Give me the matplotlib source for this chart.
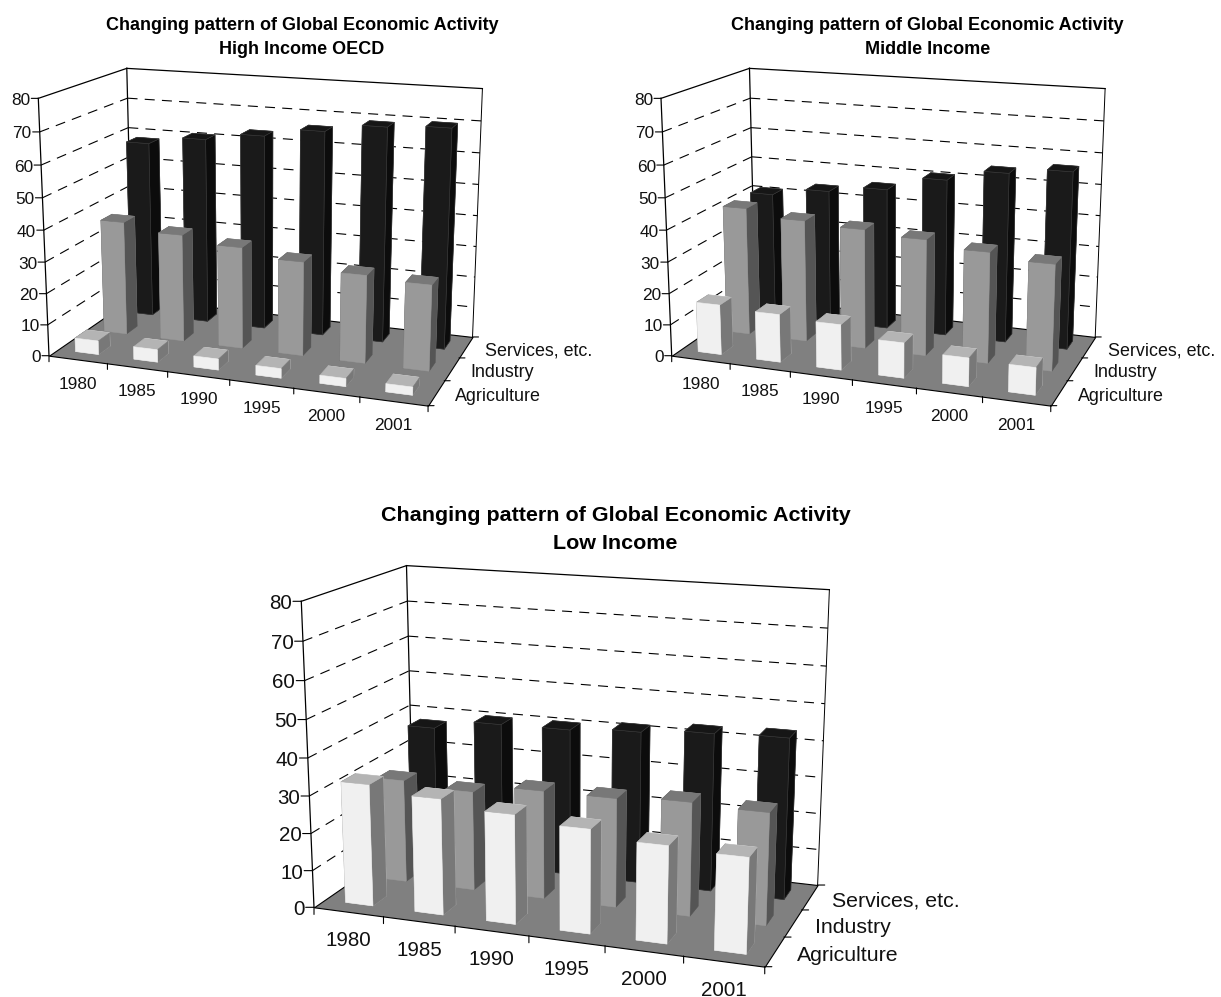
import numpy as np
import matplotlib
matplotlib.use("Agg")
import matplotlib.pyplot as plt
from mpl_toolkits.mplot3d import proj3d
from mpl_toolkits.mplot3d.art3d import Poly3DCollection

plt.rcParams['font.family'] = ['Liberation Sans', 'DejaVu Sans']

years = ['1980', '1985', '1990', '1995', '2000', '2001']
sectors = ['Agriculture', 'Industry', 'Services, etc.']
z_ticks = [0, 10, 20, 30, 40, 50, 60, 70, 80]

high_agri = [4.4, 4.0, 3.5, 3.0, 2.5, 2.5]
high_ind = [37, 34.7, 32.6, 30, 27.8, 26.9]
high_serv = [58.3, 61, 63.5, 66.3, 69, 70]

mid_agri = [16, 15.2, 14.3, 11, 8.8, 8.4]
mid_ind = [41.5, 39.3, 38.3, 37, 35, 33.3]
mid_serv = [41.3, 44, 46.2, 50.9, 54.6, 56.6]

low_agri = [32.7, 30.9, 28.9, 27.2, 25.2, 24.5]
low_ind = [28.2, 27, 29.3, 29.3, 30.3, 29.7]
low_serv = [37.8, 40.5, 40.7, 41.8, 43.1, 43.7]

# top, front and side face colours for each sector
face_cols = {
    'Agriculture': ('#b4b4b4', '#f0f0f0', '#787878'),
    'Industry': ('#787878', '#999999', '#555555'),
    'Services, etc.': ('#161616', '#1a1a1a', '#0c0c0c'),
}

# camera shared by the three charts
AZIM, ELEV, FOCAL = -70.281, 14.958, 0.5324
ASP_Y, ASP_Z = 0.5115, 0.6721

W, H = 1221, 997
fig = plt.figure(figsize=(W / 100, H / 100), dpi=100)


def draw_chart(agri, ind, serv, title, left_px, right_px, title_xy, k):
    ax = fig.add_axes([0, 0, 500 / W, 500 / H], projection='3d', computed_zorder=False)
    ax.set_axis_off()
    ax.patch.set_alpha(0)
    ax.set_xlim(0, 6, view_margin=0)
    ax.set_ylim(0, 3, view_margin=0)
    ax.set_zlim(0, 80, view_margin=0)
    ax.view_init(elev=ELEV, azim=AZIM)
    ax.set_proj_type('persp', focal_length=FOCAL)
    ax.set_box_aspect((1, ASP_Y, ASP_Z))

    # scale and shift the axes so the box lands on its two anchor corners
    M = ax.get_proj()
    ax.apply_aspect()
    xa, ya, _ = proj3d.proj_transform(0, 0, 0, M)
    xb, yb, _ = proj3d.proj_transform(6, 3, 80, M)
    pa, pb = ax.transData.transform([(xa, ya), (xb, yb)])
    ta = np.array([left_px[0], H - left_px[1]])
    tb = np.array([right_px[0], H - right_px[1]])
    s = np.linalg.norm(tb - ta) / np.linalg.norm(pb - pa)
    x0 = ta - pa * s
    ax.set_position([x0[0] / W, x0[1] / H, 500 * s / W, 500 * s / H])

    def to2d(x, y, z):
        X, Y, _ = proj3d.proj_transform(x, y, z, M)
        return float(X), float(Y)

    def line(xs, ys, zs, **kw):
        ax.plot(xs, ys, zs, clip_on=False, **kw)

    def tick(x, y, z, dx, dy):
        ax.annotate('', xy=to2d(x, y, z), xytext=(dx * k * 0.72, dy * k * 0.72),
                    textcoords='offset points', annotation_clip=False,
                    arrowprops=dict(arrowstyle='-', lw=0.8, color='black', shrinkA=0, shrinkB=0))

    def label(x, y, z, dx, dy, text, ha, size=12.4):
        ax.annotate(text, xy=to2d(x, y, z), xytext=(dx * k * 0.72, dy * k * 0.72),
                    textcoords='offset points', ha=ha, va='center',
                    fontsize=size * k, annotation_clip=False, color='#111111')

    # walls and their gridlines
    dash = dict(color='black', lw=0.8, ls=(0, (9, 6.5)), zorder=1)
    solid = dict(color='black', lw=0.9, zorder=1)
    for z in z_ticks[1:-1]:
        line([0, 0], [0, 3], [z, z], **dash)
        line([0, 6], [3, 3], [z, z], **dash)
    line([0, 0], [0, 0], [0, 80], **solid)
    line([0, 0], [3, 3], [0, 80], **solid)
    line([6, 6], [3, 3], [0, 80], color='black', lw=0.7, zorder=1)
    line([0, 0], [0, 3], [80, 80], **solid)
    line([0, 6], [3, 3], [80, 80], **solid)

    # floor
    floor = Poly3DCollection([[(0, 0, 0), (6, 0, 0), (6, 3, 0), (0, 3, 0)]],
                             facecolors='#808080', edgecolors='black', linewidths=0.8)
    floor.set_zorder(2)
    ax.add_collection3d(floor)

    # bars, back row first and left to right
    zo = 3
    for name, vals, j in zip(sectors[::-1], (serv, ind, agri), (2, 1, 0)):
        top, front, side = face_cols[name]
        cols = [top, top, front, front, side, side]
        edges = '#3c3c3c' if name == 'Services, etc.' else cols
        for i, v in enumerate(vals):
            bar = ax.bar3d(i + 0.3, j + 0.3, 0, 0.4, 0.4, v, color=cols, shade=False,
                           edgecolor=edges, linewidth=0.4)
            bar.set_zorder(zo)
            zo += 1

    # axis ticks and labels
    for z in z_ticks:
        tick(0, 0, z, -7, 0)
        label(0, 0, z, -8, -2, str(z), 'right')
    for i in range(7):
        tick(i, 0, 0, 0, -6)
    for i, yr in enumerate(years):
        label(i + 0.5, 0, 0, 0, -24.5, yr, 'center')
    for j in range(4):
        tick(6, j, 0, 6, 0)
    for j, name in enumerate(sectors):
        label(6, j + 0.5, 0, 19, -3.5, name, 'left', size=12.85)

    fig.text(title_xy[0] / W, 1 - title_xy[1] / H, title, ha='center', va='center',
             fontweight='bold', fontsize=13 * k, linespacing=1.6, color='black')


t = 'Changing pattern of Global Economic Activity\n'
draw_chart(high_agri, high_ind, high_serv, t + 'High Income OECD', (49, 355.7), (483.3, 90), (302, 37.5), 1)
draw_chart(mid_agri, mid_ind, mid_serv, t + 'Middle Income', (671.7, 355.7), (1106, 90), (927.5, 37.5), 1)
draw_chart(low_agri, low_ind, low_serv, t + 'Low Income', (314, 907.3), (831, 592.3), (615.5, 529.5), 1.188)

fig.savefig('out.png', dpi=100)
